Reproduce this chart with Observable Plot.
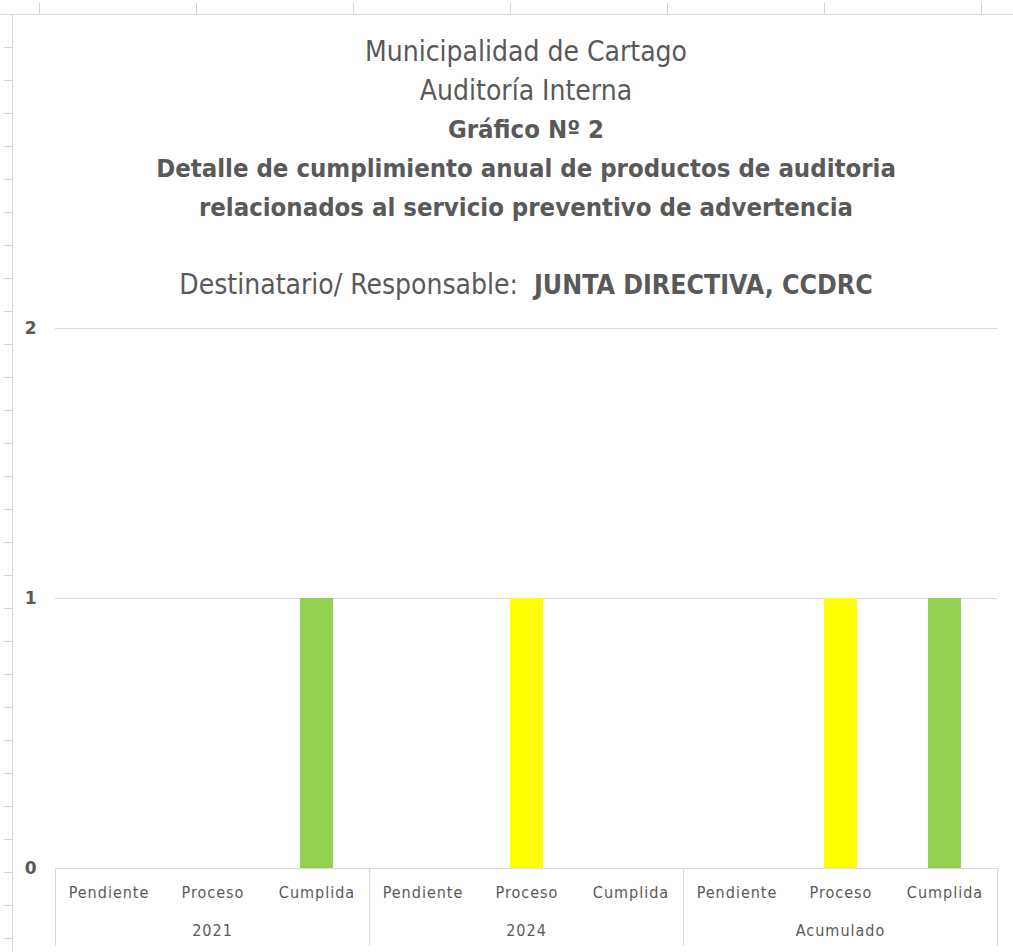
<!DOCTYPE html>
<html>
<head>
<meta charset="utf-8">
<script src="https://cdn.jsdelivr.net/npm/d3@7"></script>
<script src="https://cdn.jsdelivr.net/npm/@observablehq/plot@0.6"></script>
<style>
  html, body { margin: 0; padding: 0; background: #fff; }
  #page { position: relative; width: 1013px; height: 952px; overflow: hidden; background: #fff;
    font-family: "DejaVu Sans Condensed", "Liberation Sans Narrow", Roboto, sans-serif; }
  #colhead { position: absolute; left: 0; top: 0; width: 1013px; height: 14px;
    border-bottom: 1px solid #d6d6d6;
    background: repeating-linear-gradient(to right, transparent 0, transparent 39px, #d0d0d0 39px, #d0d0d0 40px, transparent 40px, transparent 157px);
    background-size: 157px 11px; background-position: 0 3px; background-repeat: repeat-x; }
  #rowhead { position: absolute; left: 0; top: 15px; width: 12px; height: 940px;
    border-right: 1px solid #d6d6d6;
    background: repeating-linear-gradient(to bottom, transparent 0, transparent 32px, #d0d0d0 32px, #d0d0d0 33px);
    background-size: 8px 33px; background-position: 4px 0; background-repeat: repeat-y; }
  .t { position: absolute; left: 0; width: 1052px; text-align: center; color: #595959;
    font-size: 28px; line-height: 39px; white-space: nowrap; }
  .b { font-weight: bold; font-size: 25.5px; }
  #chart { position: absolute; left: 0; top: 300px; }
  #chart svg text { letter-spacing: 1px; }
</style>
</head>
<body>
<div id="page">
  <div id="colhead"></div>
  <div id="rowhead"></div>
  <div class="t" style="top:32px;">Municipalidad de Cartago</div>
  <div class="t" style="top:71px;">Auditoría Interna</div>
  <div class="t b" style="top:110px;">Gráfico Nº 2</div>
  <div class="t b" style="top:149px;">Detalle de cumplimiento anual de productos de auditoria</div>
  <div class="t b" style="top:188px;">relacionados al servicio preventivo de advertencia</div>
  <div class="t" style="top:265px;">Destinatario/ Responsable:&nbsp; <span class="b" style="font-size:26.5px;">JUNTA DIRECTIVA, CCDRC</span></div>
  <div id="chart"></div>
</div>
<script>
const groups = ["2021", "2024", "Acumulado"];
const estados = ["Pendiente", "Proceso", "Cumplida"];
const values2021 = [0, 0, 1];
const values2024 = [0, 1, 0];
const valuesAcumulado = [0, 1, 1];
const yTicks = [0, 1, 2];
const estadoColors = ["#FF0000", "#FFFF00", "#92D050"];

const series = [values2021, values2024, valuesAcumulado];
const data = groups.flatMap((g, i) => estados.map((e, j) => ({grupo: g, estado: e, valor: series[i][j]})));

const gray = "#d9d9d9";
const textGray = "#595959";

const chart = Plot.plot({
  width: 1013,
  height: 652,
  marginLeft: 55,
  marginRight: 16,
  marginTop: 28,
  marginBottom: 84,
  style: {fontFamily: "'DejaVu Sans Condensed', 'Liberation Sans Narrow', Roboto, sans-serif", fontSize: "16px", color: textGray, background: "transparent"},
  fx: {domain: groups, padding: 0, label: null},
  x: {domain: estados, paddingInner: 0.685, paddingOuter: 0.3425, label: null},
  y: {domain: [0, 2], label: null},
  color: {domain: estados, range: estadoColors},
  marks: [
    Plot.gridY(yTicks.filter(d => d > 0), {stroke: gray, strokeOpacity: 1, strokeWidth: 1}),
    Plot.frame({anchor: "left", stroke: gray, strokeOpacity: 1, insetBottom: -77, insetTop: 540}),
    Plot.frame({anchor: "right", stroke: gray, strokeOpacity: 1, insetBottom: -77, insetTop: 540}),
    Plot.barY(data, {fx: "grupo", x: "estado", y: "valor", fill: "estado"}),
    Plot.ruleY([0], {stroke: gray, strokeWidth: 1}),
    Plot.axisY({ticks: yTicks, tickSize: 0, tickPadding: 18, fontSize: 17, fill: textGray, tickFormat: d3.format("d"), label: null, fontFamily: "'DejaVu Sans', sans-serif", fontWeight: 600}),
    Plot.axisX({tickSize: 0, tickPadding: 18, fontSize: 16, fill: textGray, label: null}),
    Plot.axisFx({anchor: "bottom", tickSize: 0, tickPadding: 56, fontSize: 16, fill: textGray, label: null})
  ]
});
document.getElementById("chart").appendChild(chart);
</script>
</body>
</html>
